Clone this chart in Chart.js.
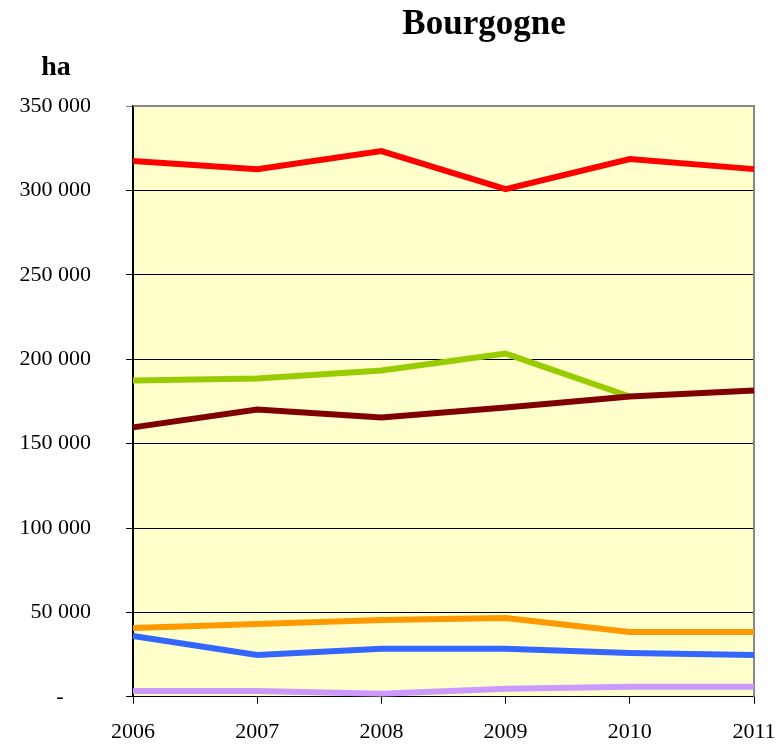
<!DOCTYPE html>
<html>
<head>
<meta charset="utf-8">
<script src="https://cdn.jsdelivr.net/npm/chart.js@4.4.0/dist/chart.umd.min.js"></script>
<style>
  html, body { margin: 0; padding: 0; background: #fff; }
  #wrap { width: 778px; height: 745px; }
</style>
</head>
<body>
<div id="wrap"><canvas id="myChart" width="778" height="745"></canvas></div>
<script>
let annees = ["2006", "2007", "2008", "2009", "2010", "2011"];
let serieRouge = [317400, 312600, 323300, 300800, 318600, 312600];
let serieBordeaux = [159600, 170200, 165500, 171400, 177900, 181500];
let serieVerte = [187400, 188500, 193300, 203300, 177900, null];
let serieOrange = [40800, 43100, 45500, 46700, 38400, 38400];
let serieBleue = [36000, 24800, 28400, 28400, 26000, 24800];
let serieViolette = [3500, 3500, 1800, 4700, 5900, 5900];

const police = "'Liberation Serif', 'Times New Roman', serif";

const fond = {
    id: 'fond',
    beforeDraw(chart) {
        const a = chart.chartArea;
        const c = chart.ctx;
        c.save();
        c.fillStyle = '#FFFFCC';
        c.fillRect(a.left, a.top, a.right - a.left, a.bottom - a.top);
        c.restore();
    },
    beforeDatasetsDraw(chart) {
        const a = chart.chartArea;
        const c = chart.ctx;
        c.save();
        c.strokeStyle = '#888888';
        c.lineWidth = 2;
        c.beginPath();
        c.moveTo(a.left, a.top);
        c.lineTo(a.right, a.top);
        c.lineTo(a.right, a.bottom);
        c.stroke();
        c.restore();
    },
    afterDraw(chart) {
        const c = chart.ctx;
        c.save();
        c.fillStyle = '#000';
        c.textAlign = 'center';
        c.textBaseline = 'alphabetic';
        c.font = "bold 35px " + police;
        c.fillText("Bourgogne", 484, 34);
        c.font = "bold 28px " + police;
        c.fillText("ha", 56, 75);
        c.restore();
    }
};

function ligne(data, couleur) {
    return {
        data: data,
        borderColor: couleur,
        backgroundColor: couleur,
        borderWidth: 6,
        pointRadius: 0,
        tension: 0,
        spanGaps: false
    };
}

const ctx = document.getElementById('myChart').getContext('2d');
const myChart = new Chart(ctx, {
    type: 'line',
    data: {
        labels: annees,
        datasets: [
            ligne(serieRouge, '#FF0000'),
            ligne(serieBordeaux, '#800000'),
            ligne(serieVerte, '#99CC00'),
            ligne(serieOrange, '#FF9900'),
            ligne(serieBleue, '#3366FF'),
            ligne(serieViolette, '#CC99FF')
        ]
    },
    options: {
        responsive: false,
        animation: false,
        layout: { padding: { top: 106, right: 24, left: 0, bottom: 0 } },
        plugins: {
            legend: { display: false },
            tooltip: { enabled: false }
        },
        scales: {
            x: {
                offset: false,
                afterFit: (s) => {
                    s.height = 47;
                    s.paddingLeft = 0;
                    s.paddingRight = 0;
                },
                grid: {
                    drawOnChartArea: false,
                    drawTicks: true,
                    tickLength: 7,
                    color: '#000'
                },
                border: { color: '#000', width: 1 },
                ticks: {
                    color: '#000',
                    font: { family: police, size: 22 },
                    padding: 15,
                    maxRotation: 0
                }
            },
            y: {
                min: 0,
                max: 350000,
                afterFit: (s) => { s.width = 133; },
                grid: {
                    color: (c) => c.tick && c.tick.value === 350000 ? '#888888' : '#000',
                    lineWidth: 1,
                    tickLength: 7
                },
                border: { color: '#000', width: 2 },
                ticks: {
                    stepSize: 50000,
                    color: '#000',
                    padding: 35,
                    font: { family: police, size: 22 },
                    callback: (v) => v === 0 ? '-     ' : String(v).replace(/\B(?=(\d{3})+(?!\d))/g, ' ')
                }
            }
        }
    },
    plugins: [fond]
});
</script>
</body>
</html>
